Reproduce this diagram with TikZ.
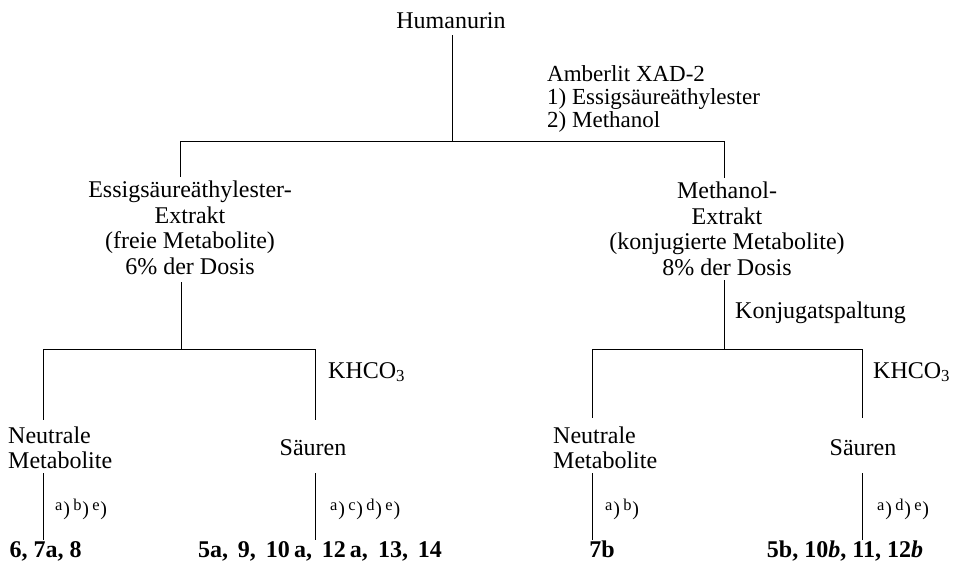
\documentclass[tikz,border=0pt]{standalone}
\usepackage{fontspec}
\setmainfont{Liberation Serif}
\newcommand{\supl}[1]{\raisebox{5pt}{\fontsize{16.5}{16.5}\selectfont #1}\kern0.8pt)}
\begin{document}
\begin{tikzpicture}[x=1pt,y=-1pt,
  txt/.style={font=\fontsize{24}{25.7}\selectfont, inner sep=0pt},
  amb/.style={font=\fontsize{23}{23}\selectfont, inner sep=0pt, align=left, anchor=north west},
  blk/.style={font=\fontsize{24}{25.7}\selectfont, inner sep=0pt, align=center, anchor=north},
  neu/.style={font=\fontsize{24}{25}\selectfont, inner sep=0pt, align=left, anchor=north west},
  num/.style={font=\fontsize{24}{26}\selectfont\bfseries, inner sep=0pt, anchor=base},
  lab/.style={font=\fontsize{20}{20}\selectfont, inner sep=0pt, anchor=base west},
  ln/.style={line width=0.9pt}]
\useasboundingbox (0,0) rectangle (956,562);

% texts
\node[txt, anchor=base] (hum) at (451,28) {Humanurin};
\node[amb] (amberlit) at (547,65) {Amberlit XAD-2\\1) Essigsäureäthylester\\2) Methanol};
\node[blk] (extL) at (190,180.5) {Essigsäureäthylester-\\Extrakt\\(freie Metabolite)\\6\% der Dosis};
\node[blk] (extR) at (727,181.5) {Methanol-\\Extrakt\\(konjugierte Metabolite)\\8\% der Dosis};
\node[txt, anchor=base west] (konj) at (735,318) {Konjugatspaltung};
\node[txt, anchor=base west] (khL) at (328,378) {KHCO\textsubscript{3}};
\node[txt, anchor=base west] (khR) at (873,378) {KHCO\textsubscript{3}};
\node[neu] (neuL) at (8,426.5) {Neutrale\\Metabolite};
\node[neu] (neuR) at (553,426.5) {Neutrale\\Metabolite};
\node[txt, anchor=base] (saeL) at (313,455) {Säuren};
\node[txt, anchor=base] (saeR) at (863,455) {Säuren};
\node[lab] (labA) at (55,515) {\supl{a}\,\supl{b}\,\supl{e}};
\node[lab] (labB) at (330,515) {\supl{a}\,\supl{c}\,\supl{d}\,\supl{e}};
\node[lab] (labC) at (605,515) {\supl{a}\,\supl{b}};
\node[lab] (labD) at (877,515) {\supl{a}\,\supl{d}\,\supl{e}};
\node[num] (resA) at (45.5,557) {6, 7a, 8};
\node[num] (resB) at (320,557) {5a,\hspace{4pt} 9,\hspace{4pt} 10\,a,\hspace{4pt} 12\,a,\hspace{4pt} 13,\hspace{4pt} 14};
\node[num] (resC) at (602,557) {7b};
\node[num] (resD) at (845,557) {5b, 10\textit{b}, 11, 12\textit{b}};

% junction coordinates
\coordinate (h0) at (452,35);
\coordinate (h1) at (452,141);
\coordinate (tl) at (180,141);
\coordinate (tr) at (724,141);
\coordinate (tlE) at (180,177);
\coordinate (trE) at (724,178);
\coordinate (lA) at (181,282);
\coordinate (lB) at (181,349);
\coordinate (lL) at (43,349);
\coordinate (lR) at (315,349);
\coordinate (lLd) at (43,420);
\coordinate (lRd) at (315,420);
\coordinate (rA) at (724,280);
\coordinate (rB) at (724,349);
\coordinate (rL) at (592,349);
\coordinate (rR) at (862,349);
\coordinate (rLd) at (592,418);
\coordinate (rRd) at (862,418);
\coordinate (p1a) at (43,473);  \coordinate (p1b) at (43,540);
\coordinate (p2a) at (315,473); \coordinate (p2b) at (315,540);
\coordinate (p3a) at (592,473); \coordinate (p3b) at (592,540);
\coordinate (p4a) at (862,473); \coordinate (p4b) at (862,540);

% connectors
\draw[ln] (h0) -- (h1);
\draw[ln] (tl) -- (tr);
\draw[ln] (tl) -- (tlE);
\draw[ln] (tr) -- (trE);
\draw[ln] (lA) -- (lB);
\draw[ln] (lL) -- (lR);
\draw[ln] (lL) -- (lLd);
\draw[ln] (lR) -- (lRd);
\draw[ln] (rA) -- (rB);
\draw[ln] (rL) -- (rR);
\draw[ln] (rL) -- (rLd);
\draw[ln] (rR) -- (rRd);
\draw[ln] (p1a) -- (p1b);
\draw[ln] (p2a) -- (p2b);
\draw[ln] (p3a) -- (p3b);
\draw[ln] (p4a) -- (p4b);
\end{tikzpicture}
\end{document}
